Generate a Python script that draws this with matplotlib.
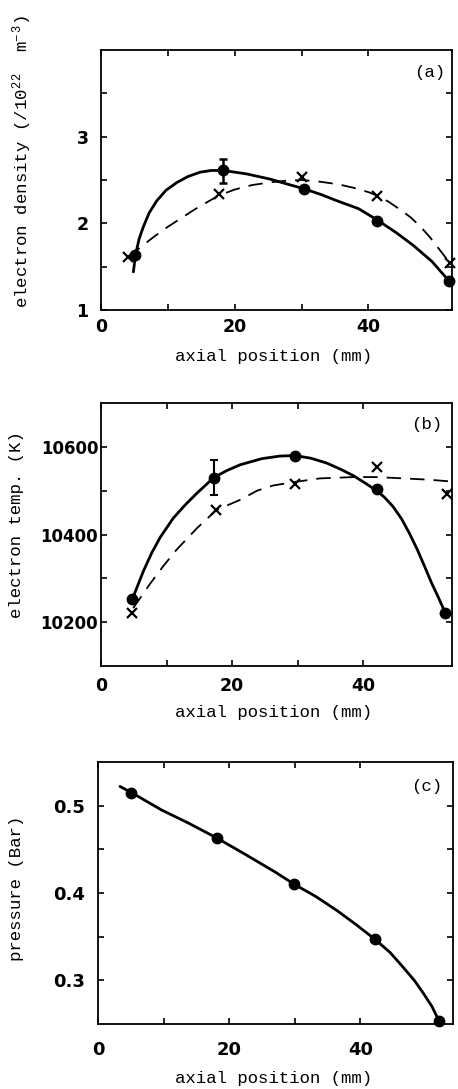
import matplotlib
matplotlib.use("Agg")
import matplotlib.pyplot as plt

# ---------------- data ----------------
# panel (a): electron density (1e22 m^-3)
a_pts_x = [5.1, 18.3, 30.3, 41.3, 52.0]
a_pts_y = [1.63, 2.61, 2.40, 2.03, 1.34]
a_err_x = [18.3]
a_err_y = [2.605]
a_err = [0.135]
a_cross_x = [4.1, 17.6, 30.0, 41.3, 52.2]
a_cross_y = [1.61, 2.34, 2.53, 2.32, 1.54]
a_solid_x = [4.84, 5.2, 5.7, 6.33, 7.2, 8.34, 9.7, 11.33, 13.0, 14.82, 16.5, 18.3,
             21.8, 25.3, 28.0, 30.3, 33.0, 35.3, 38.5, 41.3, 44.2, 46.8, 49.5, 52.0]
a_solid_y = [1.44, 1.65, 1.82, 1.96, 2.12, 2.26, 2.38, 2.47, 2.54, 2.59, 2.61, 2.61,
             2.57, 2.51, 2.45, 2.40, 2.33, 2.26, 2.17, 2.04, 1.89, 1.74, 1.56, 1.34]
a_dash_x = [4.1, 6.0, 8.0, 10.0, 12.0, 14.0, 16.0, 17.6, 20.0, 22.5, 25.0, 27.5, 30.0,
            32.8, 35.5, 37.8, 40.0, 41.3, 43.0, 44.7, 46.3, 47.8, 49.2, 50.3, 51.3, 52.2]
a_dash_y = [1.61, 1.73, 1.85, 1.96, 2.06, 2.16, 2.25, 2.32, 2.39, 2.44, 2.47, 2.49, 2.50,
            2.48, 2.45, 2.41, 2.36, 2.32, 2.25, 2.16, 2.07, 1.96, 1.84, 1.73, 1.63, 1.54]

# panel (b): electron temperature (K)
b_pts_x = [4.77, 17.2, 29.6, 42.0, 52.5]
b_pts_y = [10252, 10530, 10580, 10503, 10220]
b_err_x = [17.2]
b_err_y = [10530]
b_err = [39]
b_cross_x = [4.7, 17.6, 29.6, 42.0, 52.7]
b_cross_y = [10221, 10456, 10515, 10555, 10493]
b_solid_x = [4.77, 5.5, 6.45, 7.7, 9.0, 11.0, 12.8, 14.6, 17.2, 19.2, 21.2, 24.5, 27.3,
             29.6, 32.0, 34.4, 36.5, 38.5, 40.3, 42.0, 43.2, 44.5, 45.8, 47.0, 48.2,
             49.3, 50.4, 51.5, 52.5]
b_solid_y = [10252, 10280, 10316, 10357, 10393, 10437, 10467, 10494, 10530, 10546,
             10559, 10573, 10579, 10580, 10574, 10563, 10549, 10534, 10517, 10500,
             10485, 10464, 10436, 10403, 10366, 10328, 10289, 10254, 10220]
b_dash_x = [4.9, 7.5, 9.5, 11.5, 14.6, 17.6, 21.2, 23.8, 26.3, 29.6, 33.4, 38.5, 42.0,
            46.1, 50.0, 53.3]
b_dash_y = [10232, 10288, 10328, 10365, 10414, 10456, 10479, 10500, 10512, 10520,
            10528, 10531, 10531, 10528, 10525, 10521]

# panel (c): pressure (Bar)
c_pts_x = [5.1, 18.1, 29.9, 42.2, 52.0]
c_pts_y = [0.515, 0.463, 0.410, 0.347, 0.253]
c_line_x = [3.35, 5.1, 9.7, 13.8, 18.1, 22.5, 27.0, 29.9, 33.2, 36.4, 39.3, 42.2,
            44.5, 46.5, 48.2, 49.6, 50.9, 52.0]
c_line_y = [0.522, 0.515, 0.495, 0.480, 0.463, 0.444, 0.424, 0.410, 0.396, 0.380,
            0.364, 0.347, 0.332, 0.315, 0.300, 0.285, 0.270, 0.253]

xlabel = "axial position (mm)"
ylabels = ["electron density (/10$^{2\\,2}$  m$^{-\\,3}$)", "electron temp. (K)",
           "pressure (Bar)"]
panel_tags = ["(a)", "(b)", "(c)"]

# ---------------- style ----------------
plt.rcParams["font.family"] = ["DejaVu Sans"]
plt.rcParams["font.weight"] = "bold"
plt.rcParams["mathtext.fontset"] = "custom"
plt.rcParams["mathtext.rm"] = "Liberation Mono:weight=normal"
plt.rcParams["mathtext.it"] = "Liberation Mono:weight=normal"
plt.rcParams["mathtext.bf"] = "Liberation Mono:weight=normal"
plt.rcParams["mathtext.default"] = "rm"

W, H = 458, 1089
fig = plt.figure(figsize=(W / 100, H / 100), dpi=100)
fig.patch.set_facecolor("white")

MONO = "Liberation Mono"


def px_axes(l, t, r, b):
    return fig.add_axes([l / W, 1 - b / H, (r - l) / W, (b - t) / H])


def style_axes(ax):
    for s in ax.spines.values():
        s.set_linewidth(1.3)
    ax.tick_params(direction="in", length=4, width=1.2, top=True, right=True)


def fig_text(x, y, s, **kw):
    fig.text(x / W, 1 - y / H, s, **kw)


solid_kw = dict(color="black", lw=2.0, solid_capstyle="round", solid_joinstyle="round")
dash_kw = dict(color="black", lw=1.3, dashes=(8, 5))
circ_kw = dict(ls="none", marker="o", ms=7.5, color="black", clip_on=False, zorder=5)
cross_kw = dict(ls="none", marker="x", ms=7, mew=1.6, color="black", clip_on=False, zorder=5)

# ---------------- panel (a) ----------------
ax = px_axes(101, 50, 452, 310)
ax.plot(a_solid_x, a_solid_y, **solid_kw)
ax.plot(a_dash_x, a_dash_y, **dash_kw)
ax.plot(a_pts_x, a_pts_y, **circ_kw)
ax.plot(a_cross_x, a_cross_y, **cross_kw)
ax.errorbar(a_err_x, a_err_y, yerr=a_err, fmt="none", ecolor="black", elinewidth=1.8,
            capsize=3, capthick=1.8)
ax.set_xlim(0, 52.5)
ax.set_ylim(1, 4)
ax.set_xticks([0, 10, 20, 30, 40])
ax.set_xticklabels(["0", "", "20", "", "40"])
ax.set_yticks([1, 1.5, 2, 2.5, 3, 3.5])
ax.set_yticklabels(["1", "", "2", "", "3", ""])
style_axes(ax)
ax.tick_params(axis="x", pad=6, labelsize=12.5)
ax.tick_params(axis="y", pad=9, labelsize=12.5)

# ---------------- panel (b) ----------------
ax = px_axes(101, 403, 452, 666)
ax.plot(b_solid_x, b_solid_y, **solid_kw)
ax.plot(b_dash_x, b_dash_y, **dash_kw)
ax.plot(b_pts_x, b_pts_y, **circ_kw)
ax.plot(b_cross_x, b_cross_y, **cross_kw)
ax.errorbar(b_err_x, b_err_y, yerr=b_err, fmt="none", ecolor="black", elinewidth=1.5,
            capsize=3, capthick=1.5)
ax.set_xlim(0, 53.5)
ax.set_ylim(10100, 10700)
ax.set_xticks([0, 10, 20, 30, 40])
ax.set_xticklabels(["0", "", "20", "", "40"])
ax.set_yticks([10200, 10300, 10400, 10500, 10600])
ax.set_yticklabels(["10200", "", "10400", "", "10600"])
style_axes(ax)
ax.tick_params(axis="x", pad=8, labelsize=12.5)
ax.tick_params(axis="y", pad=2, labelsize=12)

# ---------------- panel (c) ----------------
ax = px_axes(98, 762, 453, 1024)
ax.plot(c_line_x, c_line_y, **solid_kw)
ax.plot(c_pts_x, c_pts_y, **circ_kw)
ax.set_xlim(0, 54.1)
ax.set_ylim(0.25, 0.55)
ax.set_xticks([0, 10, 20, 30, 40])
ax.set_xticklabels(["0", "", "20", "", "40"])
ax.set_yticks([0.3, 0.35, 0.4, 0.45, 0.5])
ax.set_yticklabels(["0.3", "", "0.4", "", "0.5"])
style_axes(ax)
ax.tick_params(axis="x", pad=12, labelsize=13)
ax.tick_params(axis="y", pad=9, labelsize=13)

# ---------------- texts ----------------
label_kw = dict(family=MONO, weight="normal", size=12.5, ha="center", va="center")
fig_text(274, 356, xlabel, **label_kw)
fig_text(274, 713, xlabel, **label_kw)
fig_text(274, 1078, xlabel, **label_kw)
fig_text(22, 162, ylabels[0], rotation=90, **label_kw)
fig_text(17, 525, ylabels[1], rotation=90, **label_kw)
fig_text(17, 888, ylabels[2], rotation=90, **label_kw)

tag_kw = dict(family=MONO, weight="normal", size=12.5, ha="center", va="center")
fig_text(430, 72, panel_tags[0], **tag_kw)
fig_text(427, 425, panel_tags[1], **tag_kw)
fig_text(427, 787, panel_tags[2], **tag_kw)

fig.savefig("out.png", dpi=100, facecolor="white")
